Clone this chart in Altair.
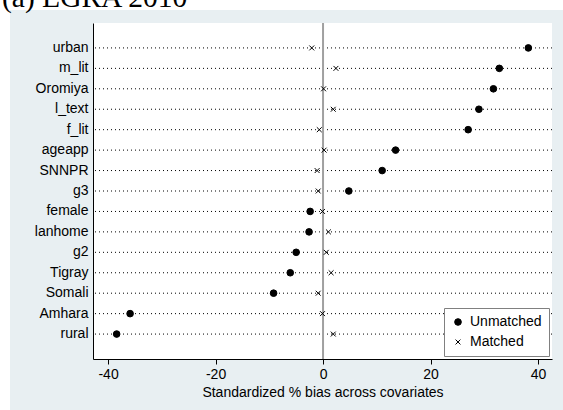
import altair as alt
import pandas as pd

title_text = "(a) EGRA 2010"
categories = ["urban", "m_lit", "Oromiya", "l_text", "f_lit", "ageapp", "SNNPR", "g3",
              "female", "lanhome", "g2", "Tigray", "Somali", "Amhara", "rural"]
unmatched = [38.2, 32.8, 31.7, 29.0, 27.0, 13.5, 11.0, 4.8,
             -2.4, -2.6, -5.0, -6.1, -9.2, -35.9, -38.4]
matched = [-2.1, 2.4, 0.1, 1.9, -0.7, 0.2, -1.1, -0.9,
           -0.1, 1.0, 0.6, 1.5, -0.9, -0.1, 1.9]
series_names = ["Unmatched", "Matched"]
x_ticks = [-40, -20, 0, 20, 40]

rows = []
for c, u, m in zip(categories, unmatched, matched):
    rows.append({"var": c, "bias": u, "sample": "Unmatched"})
    rows.append({"var": c, "bias": m, "sample": "Matched"})
df = pd.DataFrame(rows)
cat_df = pd.DataFrame({"var": categories})

W, H = 459, 336
XDOM = [-42.8, 42.6]
BG = "#e8eff2"
XPATH = "M-1,-1L1,1M-1,1L1,-1"
FONT = "Liberation Sans"

yenc = alt.Y(
    "var:N", sort=categories,
    scale=alt.Scale(type="band", paddingInner=0, paddingOuter=0.72),
    axis=alt.Axis(title=None, ticks=False, labelPadding=5, labelFontSize=14,
                  labelFont=FONT, labelColor="black", domainColor="black",
                  domainWidth=1, grid=False),
)
xscale = alt.Scale(domain=XDOM, nice=False, zero=False)

one = alt.Data(values=[{}])
strip_top = alt.Chart(one).mark_rect(clip=False, color="white").encode(
    x=alt.value(-93), x2=alt.value(W + 11), y=alt.value(-23), y2=alt.value(-13))
strip_left = alt.Chart(one).mark_rect(clip=False, color="white").encode(
    x=alt.value(-93), x2=alt.value(-83), y=alt.value(-23), y2=alt.value(H + 51))
title_mark = alt.Chart(one).mark_text(
    text=title_text, font="Liberation Serif", fontSize=29.5, align="left",
    baseline="alphabetic", color="black", clip=False).encode(
    x=alt.value(-91), y=alt.value(-16))

dots = alt.Chart(cat_df).mark_rule(strokeDash=[1, 3], color="black", strokeWidth=1).encode(y=yenc)

zero = alt.Chart(one).mark_rule(color="#a0a0a0", strokeWidth=2).encode(
    x=alt.datum(0, scale=xscale))

leg = alt.Legend(title=None)
pts = alt.Chart(df).mark_point(opacity=1, strokeWidth=1).encode(
    x=alt.X("bias:Q", scale=xscale,
            axis=alt.Axis(values=x_ticks, title="Standardized % bias across covariates",
                          labelExpr="datum.value + ''",
                          grid=False, domainColor="black", tickColor="black", tickSize=5,
                          labelFontSize=14, labelFont=FONT, labelColor="black",
                          labelPadding=3, labelFlush=False,
                          titleFontSize=14, titleFont=FONT, titleFontWeight="normal",
                          titleColor="black", titlePadding=4)),
    y=yenc,
    shape=alt.Shape("sample:N", scale=alt.Scale(domain=series_names, range=["circle", XPATH]),
                    legend=leg),
    fill=alt.Fill("sample:N", scale=alt.Scale(domain=series_names, range=["black", "transparent"]),
                  legend=leg),
    stroke=alt.Stroke("sample:N", scale=alt.Scale(domain=series_names, range=["black", "black"]),
                      legend=leg),
    size=alt.Size("sample:N", scale=alt.Scale(domain=series_names, range=[44, 24]),
                  legend=leg),
)

chart = alt.layer(strip_top, strip_left, title_mark, dots, zero, pts).properties(
    width=W, height=H,
    autosize=alt.AutoSizeParams(type="none"),
    padding={"left": 93, "top": 23, "right": 11, "bottom": 51},
    background=BG,
).configure_view(stroke=None, fill="white").configure_legend(
    orient="none", legendX=351, legendY=285, padding=7,
    strokeColor="#808080", fillColor="white", labelFontSize=14, labelFont=FONT,
    labelColor="black", rowPadding=6, labelOffset=5, symbolStrokeWidth=1,
)

chart.save("out.html", embed_options={"renderer": "svg", "actions": False})
